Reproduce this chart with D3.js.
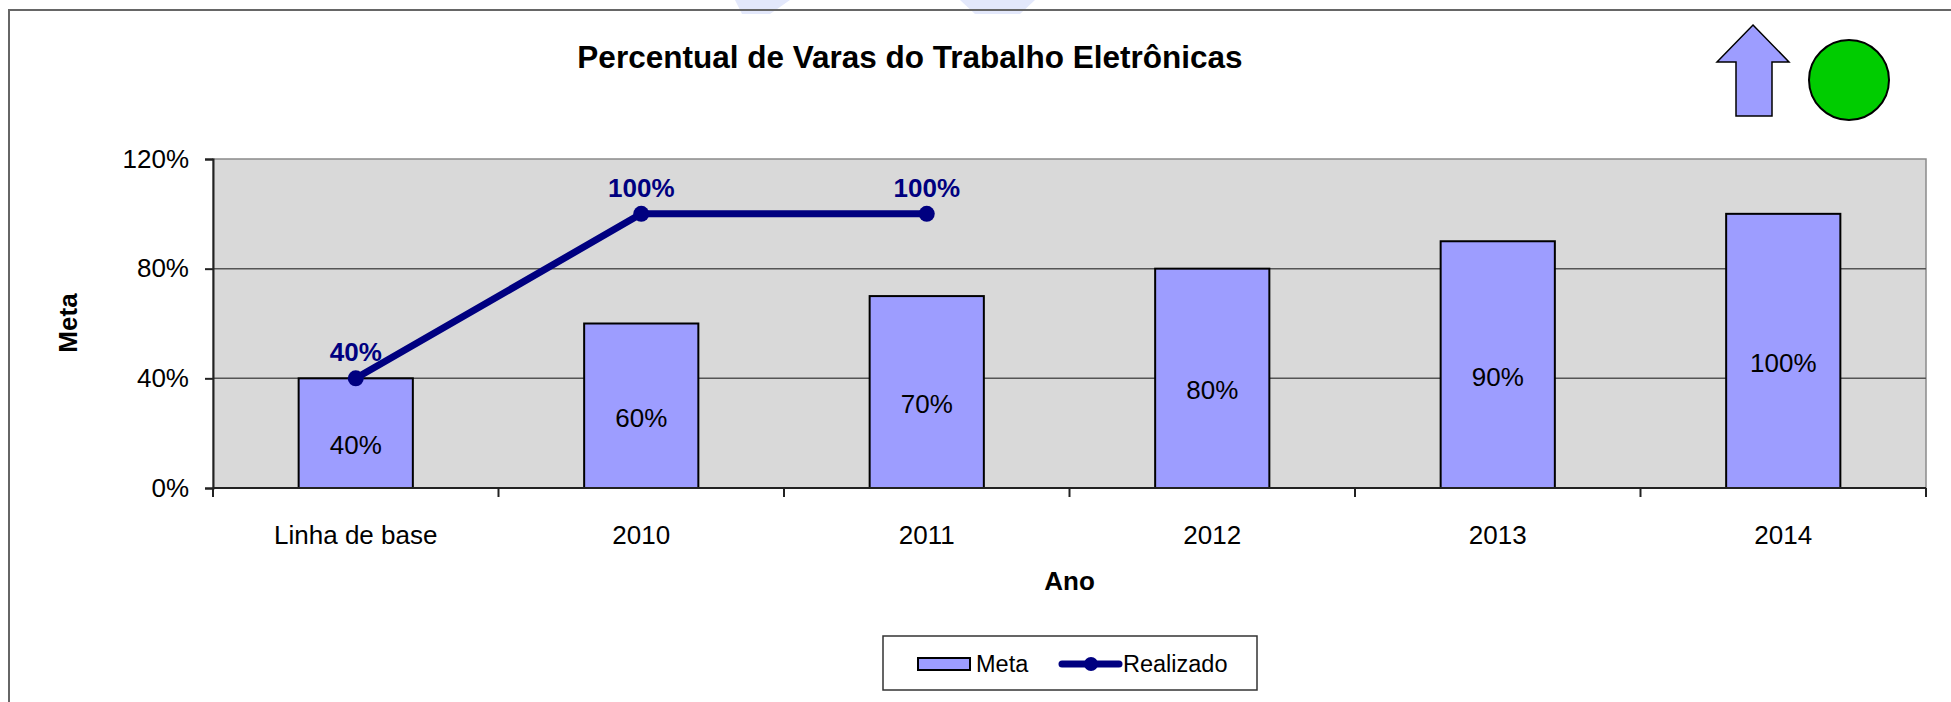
<!DOCTYPE html>
<html>
<head>
<meta charset="utf-8">
<script src="https://cdn.jsdelivr.net/npm/d3@7/dist/d3.min.js"></script>
<style>
  html, body { margin: 0; padding: 0; background: #ffffff; }
  svg { display: block; font-family: "Liberation Sans", Arial, sans-serif; }
</style>
</head>
<body>
<svg id="chart" width="1951" height="702"></svg>
<script>
// ---- data ----
const categories = ["Linha de base", "2010", "2011", "2012", "2013", "2014"];
const metaValues = [0.40, 0.60, 0.70, 0.80, 0.90, 1.00];
const realizadoValues = [0.40, 1.00, 1.00, null, null, null];
const yTickValues = [0, 0.4, 0.8, 1.2];
const titleText = "Percentual de Varas do Trabalho Eletrônicas";
const xAxisTitle = "Ano";
const yAxisTitle = "Meta";
const seriesNames = ["Meta", "Realizado"];

// ---- layout ----
const svg = d3.select("#chart");
const plot = { left: 213, right: 1926, top: 159, bottom: 488 };
const barFill = "#9d9dff";
const lineColor = "#000080";

// watermark shapes (faint)
svg.append("path")
  .attr("d", "M735,0 L790,0 L770,14 L742,14 Z")
  .attr("fill", "#e3e8fb");
svg.append("path")
  .attr("d", "M960,0 L1035,0 L1020,14 L975,14 Z")
  .attr("fill", "#e3e8fb");

// frame
svg.append("path")
  .attr("d", "M9,702 L9,10 L1951,10")
  .attr("fill", "none").attr("stroke", "#666666").attr("stroke-width", 2);

// scales
const x = d3.scaleBand().domain(categories).range([plot.left, plot.right])
  .paddingInner(0.6).paddingOuter(0.3);
const xb = d3.scaleBand().domain(categories).range([plot.left, plot.right]).padding(0);
const y = d3.scaleLinear().domain([0, 1.2]).range([plot.bottom, plot.top]);

// plot area
svg.append("rect")
  .attr("x", plot.left).attr("y", plot.top)
  .attr("width", plot.right - plot.left).attr("height", plot.bottom - plot.top)
  .attr("fill", "#d9d9d9").attr("stroke", "#8a8a8a").attr("stroke-width", 1.5);

// gridlines
svg.append("g").selectAll("line")
  .data(yTickValues.filter(v => v > 0 && v < 1.2))
  .join("line")
  .attr("x1", plot.left).attr("x2", plot.right)
  .attr("y1", d => y(d)).attr("y2", d => y(d))
  .attr("stroke", "#555555").attr("stroke-width", 1.5);

// bars
svg.append("g").selectAll("rect")
  .data(categories.map((c, i) => ({ c, v: metaValues[i] })))
  .join("rect")
  .attr("x", d => x(d.c)).attr("width", x.bandwidth())
  .attr("y", d => y(d.v)).attr("height", d => y(0) - y(d.v))
  .attr("fill", barFill).attr("stroke", "#000000").attr("stroke-width", 2);

// bar labels
svg.append("g").selectAll("text")
  .data(categories.map((c, i) => ({ c, v: metaValues[i] })))
  .join("text")
  .attr("x", d => x(d.c) + x.bandwidth() / 2)
  .attr("y", d => (y(d.v) + y(0)) / 2 + 21)
  .attr("text-anchor", "middle")
  .attr("font-size", 26)
  .attr("fill", "#000000")
  .text(d => d3.format(".0%")(d.v));

// y axis
const yAxis = svg.append("g")
  .attr("transform", `translate(${plot.left},0)`)
  .call(d3.axisLeft(y).tickValues(yTickValues).tickFormat(d3.format(".0%"))
    .tickSize(8).tickPadding(16));
yAxis.select(".domain").attr("stroke", "#222222").attr("stroke-width", 2);
yAxis.selectAll(".tick line").attr("stroke", "#222222").attr("stroke-width", 2);
yAxis.selectAll(".tick text").attr("font-size", 26).attr("fill", "#000000")
  .attr("font-family", "Liberation Sans, Arial, sans-serif");

// x axis
const xAxis = svg.append("g")
  .attr("transform", `translate(0,${plot.bottom})`)
  .call(d3.axisBottom(xb).tickSize(0).tickPadding(38));
xAxis.select(".domain").remove();
xAxis.selectAll(".tick text").attr("font-size", 26).attr("fill", "#000000")
  .attr("font-family", "Liberation Sans, Arial, sans-serif");
svg.append("line")
  .attr("x1", plot.left).attr("x2", plot.right)
  .attr("y1", plot.bottom).attr("y2", plot.bottom)
  .attr("stroke", "#222222").attr("stroke-width", 2);
const boundaries = categories.map(c => xb(c)).concat([xb.range()[1]]);
svg.append("g").selectAll("line")
  .data(boundaries)
  .join("line")
  .attr("x1", d => d).attr("x2", d => d)
  .attr("y1", plot.bottom).attr("y2", plot.bottom + 9)
  .attr("stroke", "#222222").attr("stroke-width", 2);

// line series
const pts = categories.map((c, i) => ({ c, v: realizadoValues[i] })).filter(d => d.v != null);
const cx = d => x(d.c) + x.bandwidth() / 2;
svg.append("path")
  .datum(pts)
  .attr("d", d3.line().x(cx).y(d => y(d.v)))
  .attr("fill", "none").attr("stroke", lineColor).attr("stroke-width", 7)
  .attr("stroke-linejoin", "round");
svg.append("g").selectAll("circle")
  .data(pts).join("circle")
  .attr("cx", cx).attr("cy", d => y(d.v)).attr("r", 8)
  .attr("fill", lineColor);
svg.append("g").selectAll("text")
  .data(pts).join("text")
  .attr("x", cx).attr("y", d => y(d.v) - 17)
  .attr("text-anchor", "middle")
  .attr("font-size", 26).attr("font-weight", "bold")
  .attr("fill", lineColor)
  .text(d => d3.format(".0%")(d.v));

// titles
svg.append("text")
  .attr("x", 910).attr("y", 68)
  .attr("text-anchor", "middle")
  .attr("font-size", 31.5).attr("font-weight", "bold")
  .text(titleText);
svg.append("text")
  .attr("x", (plot.left + plot.right) / 2).attr("y", 590)
  .attr("text-anchor", "middle")
  .attr("font-size", 26).attr("font-weight", "bold")
  .text(xAxisTitle);
svg.append("text")
  .attr("transform", "translate(77,323) rotate(-90)")
  .attr("text-anchor", "middle")
  .attr("font-size", 26).attr("font-weight", "bold")
  .text(yAxisTitle);

// legend
const lg = svg.append("g");
lg.append("rect").attr("x", 883).attr("y", 636).attr("width", 374).attr("height", 54)
  .attr("fill", "#ffffff").attr("stroke", "#333333").attr("stroke-width", 1.5);
lg.append("rect").attr("x", 918).attr("y", 658).attr("width", 52).attr("height", 12)
  .attr("fill", barFill).attr("stroke", "#000000").attr("stroke-width", 2);
lg.append("text").attr("x", 976).attr("y", 672).attr("font-size", 23.5).text(seriesNames[0]);
lg.append("line").attr("x1", 1062).attr("x2", 1119).attr("y1", 664).attr("y2", 664)
  .attr("stroke", lineColor).attr("stroke-width", 7).attr("stroke-linecap", "round");
lg.append("circle").attr("cx", 1091).attr("cy", 664).attr("r", 7).attr("fill", lineColor);
lg.append("text").attr("x", 1123).attr("y", 672).attr("font-size", 23.5).text(seriesNames[1]);

// status icons: up arrow and green circle
svg.append("path")
  .attr("d", "M1753,25 L1789,62 L1772,62 L1772,116 L1736,116 L1736,62 L1717,62 Z")
  .attr("fill", barFill).attr("stroke", "#000000").attr("stroke-width", 1.5)
  .attr("stroke-linejoin", "miter");
svg.append("circle")
  .attr("cx", 1849).attr("cy", 80).attr("r", 40)
  .attr("fill", "#00cc00").attr("stroke", "#000000").attr("stroke-width", 2);
</script>
</body>
</html>
